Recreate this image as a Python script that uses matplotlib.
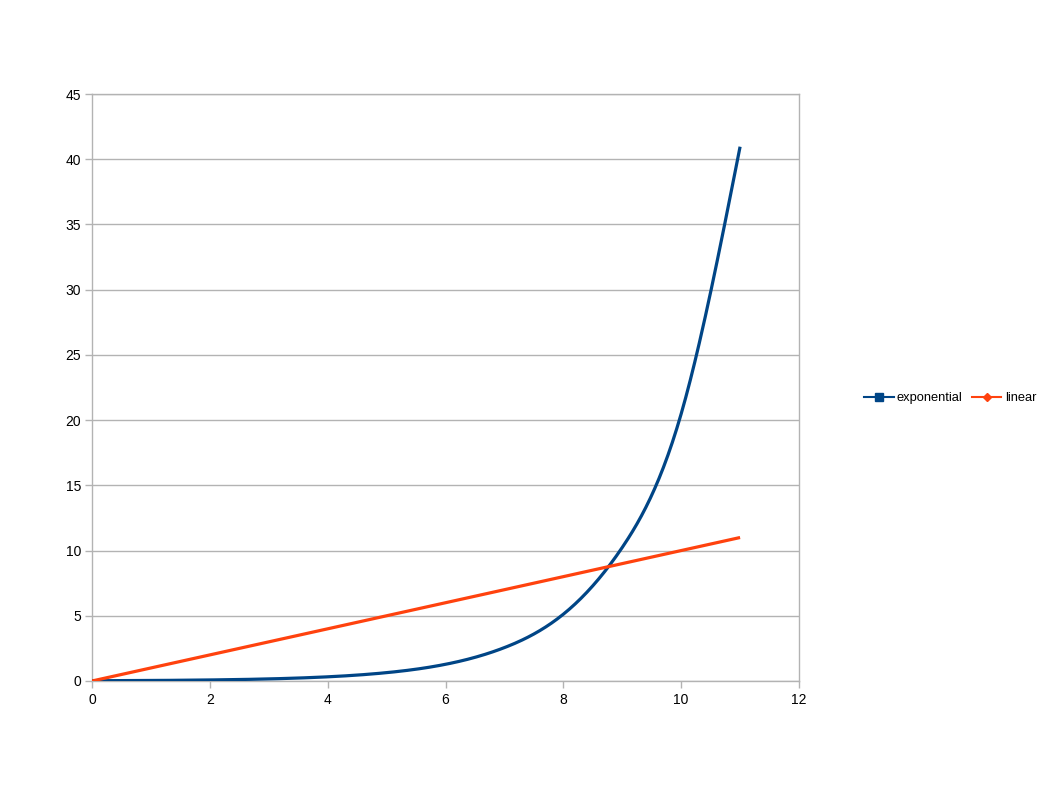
import numpy as np
import matplotlib
matplotlib.use("Agg")
import matplotlib.pyplot as plt
from matplotlib.lines import Line2D

x_vals = [0, 1, 2, 3, 4, 5, 6, 7, 8, 9, 10, 11]
exponential = [0.02, 0.04, 0.08, 0.16, 0.32, 0.64, 1.28, 2.56, 5.12, 10.24, 20.48, 40.96]
linear = [0, 1, 2, 3, 4, 5, 6, 7, 8, 9, 10, 11]
x_ticks = [0, 2, 4, 6, 8, 10, 12]
y_ticks = [0, 5, 10, 15, 20, 25, 30, 35, 40, 45]

def natural_spline(x, y, n=40):
    x = np.asarray(x, float); y = np.asarray(y, float)
    k = len(x)
    h = np.diff(x)
    A = np.zeros((k, k)); b = np.zeros(k)
    A[0, 0] = 1; A[-1, -1] = 1
    for i in range(1, k - 1):
        A[i, i - 1] = h[i - 1]
        A[i, i] = 2 * (h[i - 1] + h[i])
        A[i, i + 1] = h[i]
        b[i] = 6 * ((y[i + 1] - y[i]) / h[i] - (y[i] - y[i - 1]) / h[i - 1])
    M = np.linalg.solve(A, b)
    xs, ys = [], []
    for i in range(k - 1):
        t = np.linspace(x[i], x[i + 1], n, endpoint=(i == k - 2))
        a = x[i + 1] - t; c = t - x[i]
        s = (M[i] * a**3 + M[i + 1] * c**3) / (6 * h[i]) \
            + (y[i] / h[i] - M[i] * h[i] / 6) * a \
            + (y[i + 1] / h[i] - M[i + 1] * h[i] / 6) * c
        xs.append(t); ys.append(s)
    return np.concatenate(xs), np.concatenate(ys)

plt.rcParams['font.family'] = ['Liberation Sans', 'DejaVu Sans']
fig = plt.figure(figsize=(10.58, 7.94), dpi=100)
ax = fig.add_axes([92/1058, 1 - 681/794, (799 - 92)/1058, (681 - 94)/794])

blue = '#004586'
orange = '#ff420e'
gx, gy = natural_spline(x_vals, exponential)
ax.plot(gx, gy, color=blue, lw=2.3, solid_capstyle='butt', zorder=3)
ax.plot(x_vals, linear, color=orange, lw=2.3, solid_capstyle='butt', zorder=3)

ax.set_xlim(0, 12)
ax.set_ylim(0, 45)
ax.set_xticks(x_ticks)
ax.set_yticks(y_ticks)
ax.yaxis.grid(True, color='#b3b3b3', lw=1)
ax.set_axisbelow(True)
for s in ax.spines.values():
    s.set_color('#b3b3b3')
    s.set_linewidth(1)
ax.tick_params(axis='both', length=5, width=1, color='#b3b3b3', labelsize=10, labelcolor='black')
ax.tick_params(axis='x', pad=4)
ax.tick_params(axis='y', pad=3)

handles = [Line2D([], [], color=blue, lw=1.5, marker='s', markersize=6),
           Line2D([], [], color=orange, lw=1.5, marker='D', markersize=4.5)]
fig.legend(handles, ['exponential', 'linear'], loc='center left',
           bbox_to_anchor=(855/1058, 1 - 398/794), ncol=2, frameon=False,
           fontsize=9.3, handlelength=2.3, handletextpad=0.25, columnspacing=0.7,
           borderpad=0.2)

fig.savefig('out.png', dpi=100)
